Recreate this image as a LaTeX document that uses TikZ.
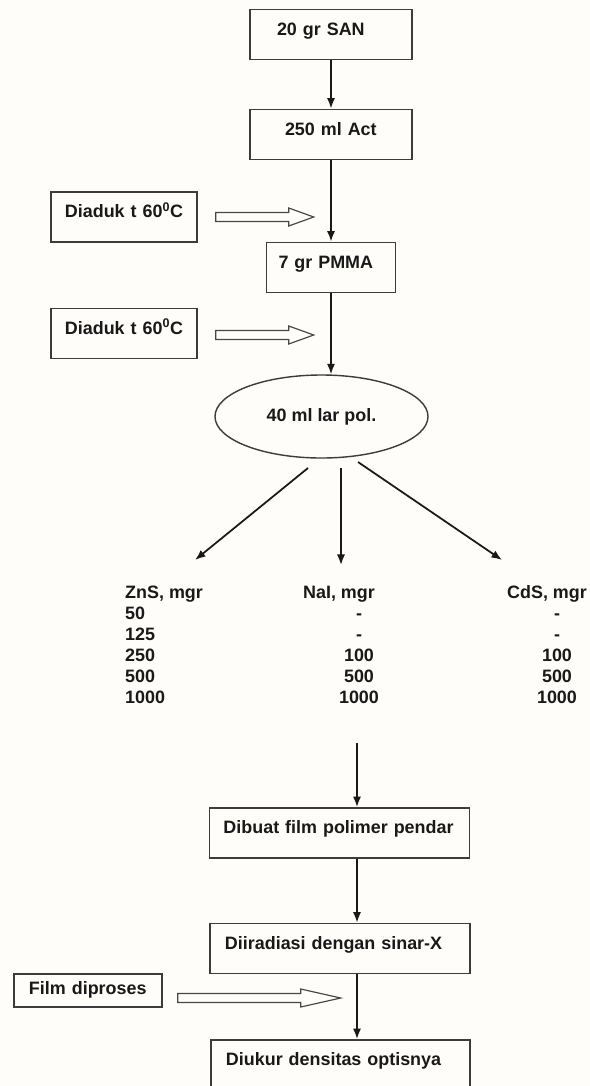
\documentclass[tikz,border=0pt]{standalone}
\usepackage{fontspec}
\setmainfont{Liberation Sans}
\usetikzlibrary{arrows.meta,shapes.geometric,calc}
\definecolor{paper}{RGB}{254,253,250}
\definecolor{ink}{RGB}{25,25,25}
\newcommand{\hollowarrow}[3]{%
  \draw[ink!80, line width=1pt] (#1) ++(0,4.5) -- ++(#2,0) -- ++(0,4.5) -- ++(#3,-9)
    -- ++(-#3,-9) -- ++(0,4.5) -- ++(-#2,0) -- cycle;}
\begin{document}
\begin{tikzpicture}[x=0.03cm, y=-0.03cm, font=\fontsize{15.3}{18.4}\selectfont\bfseries, text=ink,
    box/.style={draw=ink!85, line width=1.2pt, align=left, text height=11pt, text depth=10pt, inner ysep=11pt},
    oval/.style={draw=ink!85, line width=1.2pt, ellipse, minimum width=6.39cm, minimum height=2.49cm, inner sep=0pt},
    cell/.style={inner sep=0pt},
    flow/.style={-{Latex[length=9pt,width=7pt]}, line width=1.5pt, draw=ink}]
  \useasboundingbox (0,0) rectangle (590,1086);
  \fill[paper] (0,0) rectangle (590,1086);
  \node[box, inner xsep=0.81cm, text width=3.24cm] (san) at (331,34.5) {20 gr SAN};
  \node[box, inner xsep=1.05cm, text width=2.76cm] (act) at (331,134.5) {250 ml Act};
  \node[box, inner xsep=0.36cm, text width=3.15cm] (pmma) at (331,267.5) {7 gr PMMA};
  \node[box, align=center, inner xsep=0.15cm, text width=4.08cm] (mix1) at (124,217) {Diaduk t 60\textsuperscript{0}C};
  \node[box, align=center, inner xsep=0.15cm, text width=4.08cm] (mix2) at (124,333.5) {Diaduk t 60\textsuperscript{0}C};
  \node[oval] (pol) at (321.5,416.5) {40 ml lar pol.};
  \draw[flow] (san) -- (act);
  \draw[flow] (act.south) -- (act.south |- pmma.north);
  \draw[flow] (pmma.south) -- (pmma.south |- pol.north);
  \hollowarrow{$(mix1.east)+(18,0)$}{73}{25}
  \hollowarrow{$(mix2.east)+(18,1.5)$}{73}{25}
  \coordinate (b1) at (308,468);
  \coordinate (b2) at (341,468);
  \coordinate (b3) at (358,462);
  \coordinate (t1) at (195,560);
  \coordinate (t2) at (341,565);
  \coordinate (t3) at (502,560);
  \foreach \i in {1,2,3}
    \draw[flow] (b\i) -- (t\i);
  \node[cell, anchor=base west] (zns) at (125,598) {ZnS, mgr};
  \node[cell, anchor=base] (nai) at (339,598) {NaI, mgr};
  \node[cell, anchor=base] (cds) at (547,598) {CdS, mgr};
  \foreach \z/\n/\c [count=\i] in {50/-/-, 125/-/-, 250/100/100, 500/500/500, 1000/1000/1000} {
    \node[cell, anchor=base west] (z\i) at (125,598+21*\i) {\z};
    \node[cell, anchor=base] (n\i) at (359,598+21*\i) {\n};
    \node[cell, anchor=base] (c\i) at (557,598+21*\i) {\c};
  }
  \coordinate (down) at (357,743);
  \node[box, inner xsep=0.42cm, text width=6.96cm] (cast) at (339.5,833) {Dibuat film polimer pendar};
  \node[box, inner xsep=0.45cm, text width=6.9cm] (xray) at (340,948.5) {Diiradiasi dengan sinar-X};
  \node[box, inner xsep=0.45cm, text width=6.87cm] (od) at (340.5,1065) {Diukur densitas optisnya};
  \node[box, inner xsep=0.45cm, text width=3.54cm, text depth=3.5pt, inner ysep=6.75pt] (dev) at (88,990.5) {Film diproses};
  \draw[flow] (down) -- (down |- cast.north);
  \draw[flow] (cast.south -| down) -- (xray.north -| down);
  \draw[flow] (xray.south -| down) -- (od.north -| down);
  \hollowarrow{$(dev.east)+(15,7.5)$}{123}{40}
\end{tikzpicture}
\end{document}
